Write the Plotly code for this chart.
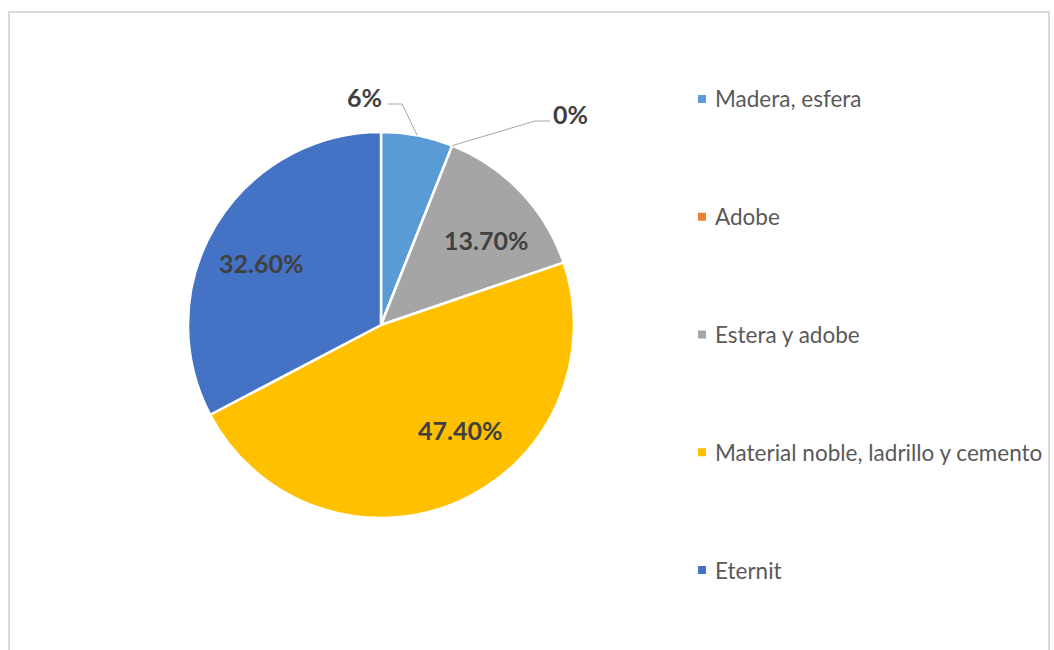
import math
import plotly.graph_objects as go

# Share of dwellings by wall material (%)
categories = ["Madera, esfera", "Adobe", "Estera y adobe",
              "Material noble, ladrillo y cemento", "Eternit"]
values = [6, 0, 13.7, 47.4, 32.6]
value_labels = ["6%", "0%", "13.70%", "47.40%", "32.60%"]
colors = ["#5B9BD5", "#ED7D31", "#A5A5A5", "#FFC000", "#4472C4"]

W, H = 1054, 650
CX, CY, R = 381, 325, 193          # pie centre and radius in pixels

fig = go.Figure(go.Pie(
    labels=categories,
    values=values,
    sort=False,
    direction="clockwise",
    rotation=0,
    marker=dict(colors=colors, line=dict(color="white", width=2.5)),
    textinfo="none",
    hoverinfo="label+percent",
    showlegend=False,
    domain=dict(x=[(CX - R) / W, (CX + R) / W],
                y=[(H - CY - R) / H, (H - CY + R) / H]),
))


def px(x, y):
    """pixel coords -> paper coords"""
    return x / W, 1 - y / H


def polar(angle_deg, r):
    """angle clockwise from 12 o'clock -> pixel point"""
    a = math.radians(angle_deg)
    return CX + r * math.sin(a), CY - r * math.cos(a)


total = sum(values)
mids = []
acc = 0.0
for v in values:
    mids.append((acc + v / 2) / total * 360)
    acc += v

annotations = []
shapes = []

label_font = dict(family="Lato, 'Open Sans', sans-serif", size=25, color="#404040")

# inside labels for the larger slices: (angle offset in degrees, radius fraction)
inside_pos = {2: (4.5, 0.70), 3: (-13.5, 0.68), 4: (-4, 0.70)}
for i, (da, rf) in inside_pos.items():
    x, y = polar(mids[i] + da, rf * R)
    ax, ay = px(x, y)
    annotations.append(dict(x=ax, y=ay, xref="paper", yref="paper",
                            text="<b>%s</b>" % value_labels[i], showarrow=False,
                            font=label_font, xanchor="center", yanchor="middle"))

# outside labels with leader lines for the small slices
outside = {0: dict(elbow=(402, 104), end=(388, 104), anchor="right"),
           1: dict(elbow=(535, 121), end=(550, 121), anchor="left")}
for i, cfg in outside.items():
    sx, sy = polar(mids[i], R)
    ex, ey = cfg["elbow"]
    tx, ty = cfg["end"]
    p = [px(sx, sy), px(ex, ey), px(tx, ty)]
    shapes.append(dict(type="path", xref="paper", yref="paper",
                       path="M %f %f L %f %f L %f %f" % (p[0] + p[1] + p[2]),
                       line=dict(color="#A6A6A6", width=1)))
    lx, ly = px(tx + (-4 if cfg["anchor"] == "right" else 1), ty - 7)
    annotations.append(dict(x=lx, y=ly, xref="paper", yref="paper",
                            text="<b>%s</b>" % value_labels[i], showarrow=False,
                            font=label_font, xanchor=cfg["anchor"], yanchor="middle"))

# legend: coloured squares with category names
leg_x, leg_y0, leg_dy, sq = 698, 99, 117.75, 8
for i, (name, c) in enumerate(zip(categories, colors)):
    yc = leg_y0 + i * leg_dy
    x0, y0 = px(leg_x, yc - sq / 2)
    x1, y1 = px(leg_x + sq, yc + sq / 2)
    shapes.append(dict(type="rect", xref="paper", yref="paper",
                       x0=x0, y0=y0, x1=x1, y1=y1,
                       fillcolor=c, line=dict(width=0)))
    tx, ty = px(leg_x + sq + 7, yc)
    annotations.append(dict(x=tx, y=ty, xref="paper", yref="paper", text=name,
                            showarrow=False, xanchor="left", yanchor="middle",
                            font=dict(family="Lato, 'Open Sans', sans-serif",
                                      size=22.5, color="#595959")))

# chart area border
bx0, by0 = px(9, 12)
bx1, by1 = px(1049, 660)
shapes.append(dict(type="rect", xref="paper", yref="paper",
                   x0=bx0, y0=by1, x1=bx1, y1=by0,
                   line=dict(color="#D9D9D9", width=2), fillcolor="rgba(0,0,0,0)"))

fig.update_layout(
    width=W, height=H,
    margin=dict(l=0, r=0, t=0, b=0),
    paper_bgcolor="white",
    plot_bgcolor="white",
    shapes=shapes,
    annotations=annotations,
)

fig.write_html("out.html")
